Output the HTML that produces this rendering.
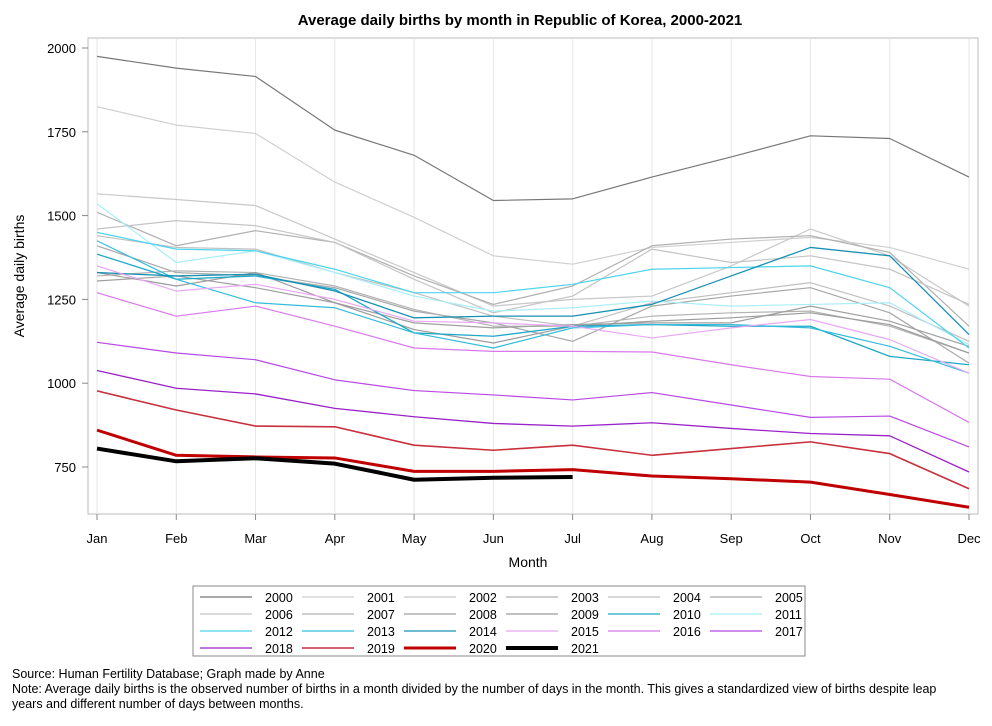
<!DOCTYPE html>
<html><head><meta charset="utf-8"><style>
body{margin:0;background:#fff;font-family:"Liberation Sans",sans-serif}
svg text{font-family:"Liberation Sans",sans-serif}
</style></head><body>
<svg id="c" width="992" height="721">
<text x="520" y="25" text-anchor="middle" font-size="15" font-weight="bold">Average daily births by month in Republic of Korea, 2000-2021</text>
<rect x="88" y="38" width="890" height="476" fill="none" stroke="#bbb"/>
<g id="grid"></g><g id="lines"></g><g id="axes"></g>
<text x="528" y="567" text-anchor="middle" font-size="14">Month</text>
<text transform="translate(24,276) rotate(-90)" text-anchor="middle" font-size="14">Average daily births</text>
<rect x="193" y="586" width="612" height="70" fill="none" stroke="#888"/>
<g id="legend"></g>
<text x="12" y="678" font-size="12.5">Source: Human Fertility Database; Graph made by Anne</text>
<text x="12" y="693" font-size="12.5">Note: Average daily births is the observed number of births in a month divided by the number of days in the month.  This gives a standardized view of births despite leap</text>
<text x="12" y="708" font-size="12.5">years and different number of days between months.</text>
</svg>
<script>
const months=["Jan","Feb","Mar","Apr","May","Jun","Jul","Aug","Sep","Oct","Nov","Dec"];
const yTicks=[750,1000,1250,1500,1750,2000];
const years=[2000,2001,2002,2003,2004,2005,2006,2007,2008,2009,2010,2011,2012,2013,2014,2015,2016,2017,2018,2019,2020,2021];
const v2000=[1975,1940,1915,1755,1680,1545,1550,1615,1675,1738,1730,1615];
const v2001=[1825,1770,1745,1600,1495,1380,1355,1405,1420,1435,1405,1340];
const v2002=[1565,1548,1530,1430,1330,1230,1250,1260,1350,1460,1380,1230];
const v2003=[1510,1410,1455,1420,1320,1235,1290,1410,1430,1440,1390,1170];
const v2004=[1440,1405,1400,1330,1270,1200,1170,1240,1270,1300,1230,1125];
const v2005=[1410,1330,1320,1285,1215,1180,1125,1230,1260,1285,1210,1060];
const v2006=[1460,1485,1470,1420,1310,1210,1260,1400,1360,1380,1340,1235];
const v2007=[1320,1335,1330,1290,1220,1170,1170,1200,1210,1215,1170,1090];
const v2008=[1305,1320,1285,1240,1180,1165,1175,1180,1180,1230,1185,1110];
const v2009=[1330,1290,1330,1240,1160,1120,1170,1185,1195,1210,1175,1090];
const v2010=[1385,1310,1320,1280,1150,1140,1170,1175,1170,1170,1080,1055];
const v2011=[1535,1360,1395,1330,1260,1215,1225,1245,1230,1235,1240,1115];
const v2012=[1450,1400,1395,1340,1270,1270,1295,1340,1345,1350,1285,1105];
const v2013=[1425,1310,1240,1225,1150,1105,1165,1175,1175,1165,1110,1030];
const v2014=[1330,1320,1325,1275,1195,1200,1200,1235,1320,1405,1380,1145];
const v2015=[1350,1275,1295,1250,1185,1180,1170,1135,1165,1190,1130,1030];
const v2016=[1270,1200,1230,1170,1105,1095,1095,1093,1055,1020,1012,883];
const v2017=[1122,1090,1070,1010,978,965,950,972,935,898,902,810];
const v2018=[1038,985,968,925,900,880,872,882,865,850,843,735];
const v2019=[977,920,872,870,815,800,815,785,805,825,790,685];
const v2020=[860,785,780,777,737,737,742,723,715,705,668,630];
const v2021=[805,767,776,760,712,718,720];
const series=[v2000,v2001,v2002,v2003,v2004,v2005,v2006,v2007,v2008,v2009,v2010,v2011,v2012,v2013,v2014,v2015,v2016,v2017,v2018,v2019,v2020,v2021];
const colors=["#777","#cfcfcf","#c8c8c8","#b0b0b0","#c0c0c0","#a8a8a8","#c4c4c4","#b4b4b4","#a0a0a0","#9c9c9c","#1fa8c8","#a8eef8","#4cd4ec","#34bcdc","#1890b4","#e8a8f4","#d878ec","#b848e4","#9a22c8","#c8303c","#c00000","#000"];
const widths=[1.2,1.2,1.2,1.2,1.2,1.2,1.2,1.2,1.2,1.2,1.3,1.2,1.2,1.2,1.3,1.2,1.2,1.2,1.3,1.6,3,4];
const NS="http://www.w3.org/2000/svg";
const x=i=>97+i*(969-97)/11;
const y=v=>48+(2000-v)*(467-48)/1250;
function mk(t,a,p){const e=document.createElementNS(NS,t);for(const k in a)e.setAttribute(k,a[k]);p.appendChild(e);return e;}
const G=document.getElementById('grid'),L=document.getElementById('lines'),A=document.getElementById('axes'),LG=document.getElementById('legend');
months.forEach((m,i)=>{
 const g=mk('line',{x1:x(i),x2:x(i),y1:38,y2:514,stroke:'#e6e6e6'},G);
 
 
 const t=mk('line',{x1:x(i),x2:x(i),y1:514,y2:520,stroke:'#888'},A);
 
 
 const l=mk('text',{x:x(i),y:543,'text-anchor':'middle','font-size':13},A);l.textContent=m;
 
 
});
yTicks.forEach(v=>{
 const t=mk('line',{x1:82,x2:88,y1:y(v),y2:y(v),stroke:'#888'},A);
 
 
 const l=mk('text',{x:76,y:y(v)+5,'text-anchor':'end','font-size':13},A);l.textContent=v;
 
 
});
series.forEach((s,k)=>{
 const p=mk('polyline',{points:s.map((v,i)=>x(i)+','+y(v)).join(' '),fill:'none',stroke:colors[k],'stroke-width':widths[k],'stroke-linejoin':'round'},L);
 
 
 const c=k%6,r=Math.floor(k/6),lx=200+c*102,ly=597+r*17;
 const ll=mk('line',{x1:lx,x2:lx+52,y1:ly,y2:ly,stroke:colors[k],'stroke-width':widths[k]},LG);
 
 
 const lt=mk('text',{x:lx+65,y:ly+5,'font-size':12.5},LG);lt.textContent=years[k];
 
 
});
</script>
</body></html>
